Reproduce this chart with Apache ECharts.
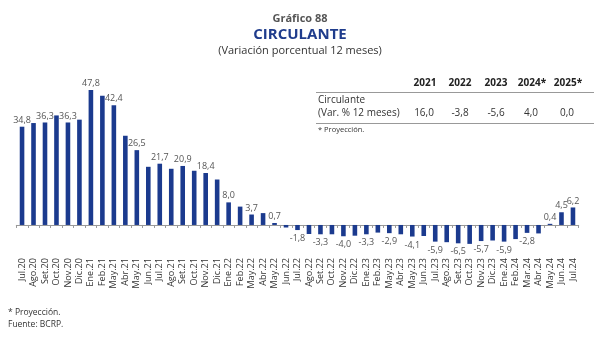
<!DOCTYPE html>
<html>
<head>
<meta charset="utf-8">
<script src="https://cdn.jsdelivr.net/npm/echarts@6/dist/echarts.min.js"></script>
<style>html,body{margin:0;padding:0;background:#fff}#c{width:600px;height:339px}</style>
</head>
<body>
<div id="c"></div>
<script>
var categories = ["Jul.20","Ago.20","Set.20","Oct.20","Nov.20","Dic.20",
"Ene.21","Feb.21","May.21","Abr.21","May.21","Jun.21","Jul.21","Ago.21","Set.21","Oct.21","Nov.21","Dic.21",
"Ene.22","Feb.22","May.22","Abr.22","May.22","Jun.22","Jul.22","Ago.22","Set.22","Oct.22","Nov.22","Dic.22",
"Ene.23","Feb.23","May.23","Abr.23","May.23","Jun.23","Jul.23","Ago.23","Set.23","Oct.23","Nov.23","Dic.23",
"Ene.24","Feb.24","Mar.24","Abr.24","May.24","Jun.24","Jul.24"];
var values = [34.8,36.1,36.3,38.8,36.3,37.3,
47.8,45.8,42.4,31.6,26.5,20.6,21.7,19.9,20.9,19.2,18.4,16.1,
8.0,6.5,3.7,4.2,0.7,-0.9,-1.8,-3.2,-3.3,-3.3,-4.0,-3.8,
-3.3,-2.7,-2.9,-3.3,-4.1,-3.9,-5.9,-6.1,-6.5,-6.7,-5.7,-5.5,
-5.9,-5.0,-2.8,-3.0,0.4,4.5,6.2];
var labeledIdx = [0,2,4,6,8,10,12,14,16,18,20,22,24,26,28,30,32,34,36,38,40,42,44,46,47,48];
var tableYears = ["2021","2022","2023","2024*","2025*"];
var tableValues = [16.0,-3.8,-5.6,4.0,0.0];

function fmt(v){ return v.toFixed(1).replace('.', ','); }
var FONT = '"Open Sans", "Noto Sans", sans-serif';
var chart = echarts.init(document.getElementById('c'));

var barData = values.map(function(v,i){
  var show = labeledIdx.indexOf(i) >= 0;
  return {value: v, label: {show: show, position: v >= 0 ? 'top' : 'bottom', distance: v >= 0 ? 2 : 4}};
});

var yearX = [425, 460, 496, 532, 568];
var valX = [424, 460, 496, 531, 567];
var graphics = [
  {type:'text', left:'center', top:13, style:{text:'Gráfico 88', font:'bold 11px '+FONT, fill:'#555'}},
  {type:'text', left:'center', top:27, style:{text:'CIRCULANTE', font:'bold 15px '+FONT, fill:'#1f3c8c'}},
  {type:'text', left:'center', top:45, style:{text:'(Variación porcentual 12 meses)', font:'11px '+FONT, fill:'#333'}},
  {type:'line', shape:{x1:316, y1:92.5, x2:594, y2:92.5}, style:{stroke:'#999', lineWidth:1}},
  {type:'line', shape:{x1:316, y1:123.5, x2:594, y2:123.5}, style:{stroke:'#999', lineWidth:1}},
  {type:'text', x:318, y:95, style:{text:'Circulante', font:'10px '+FONT, fill:'#333'}},
  {type:'text', x:318, y:108, style:{text:'(Var. % 12 meses)', font:'10px '+FONT, fill:'#333'}},
  {type:'text', x:318, y:126, style:{text:'* Proyección.', font:'7.5px '+FONT, fill:'#333'}},
  {type:'text', x:8, y:308, style:{text:'* Proyección.', font:'8.5px '+FONT, fill:'#333'}},
  {type:'text', x:8, y:320, style:{text:'Fuente: BCRP.', font:'8.5px '+FONT, fill:'#333'}}
];
tableYears.forEach(function(y,i){
  graphics.push({type:'text', x:yearX[i], y:78, style:{text:y, font:'bold 10px '+FONT, fill:'#222', align:'center'}});
  graphics.push({type:'text', x:valX[i], y:108, style:{text:fmt(tableValues[i]), font:'10px '+FONT, fill:'#333', align:'center'}});
});

chart.setOption({
  animation:false,
  grid:{left:16.3, right:21.3, top:83.8, bottom:85.8, containLabel:false},
  xAxis:{type:'category', data:categories,
    axisLine:{onZero:true, lineStyle:{color:'#999', width:1}},
    axisTick:{show:true, inside:false, length:3, lineStyle:{color:'#999'}},
    axisLabel:{rotate:90, margin:5, interval:0, fontSize:9, fontFamily:FONT, color:'#333'}
  },
  yAxis:{type:'value', min:-10, max:50, show:false, splitLine:{show:false}},
  series:[{type:'bar', data:barData, barWidth:4.6, itemStyle:{color:'#1b3a8e'},
    label:{fontSize:9, fontFamily:FONT, color:'#555', formatter:function(p){return fmt(p.value);}}}],
  graphic:graphics
});
</script>
</body>
</html>
